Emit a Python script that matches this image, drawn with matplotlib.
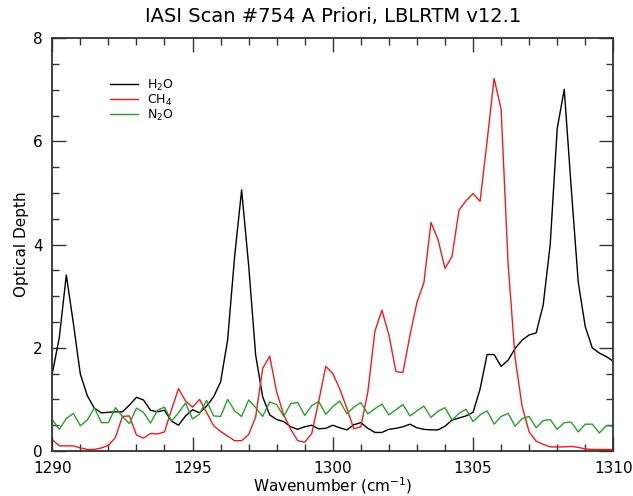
import numpy as np
import matplotlib
matplotlib.use("Agg")
import matplotlib.pyplot as plt
from matplotlib.ticker import MultipleLocator

# Spectral grid: 1290-1310 cm^-1 at 0.25 cm^-1 (IASI sampling)
wn_start, wn_step = 1290.0, 0.25

h2o = [1.50, 2.20, 3.41, 2.48, 1.49, 1.07, 0.83, 0.74, 0.75, 0.76,
       0.76, 0.89, 1.04, 0.99, 0.79, 0.76, 0.79, 0.58, 0.50, 0.68,
       0.80, 0.74, 0.87, 1.05, 1.34, 2.15, 3.77, 5.06, 3.60, 1.86,
       1.05, 0.70, 0.61, 0.57, 0.47, 0.42, 0.47, 0.50, 0.43, 0.44,
       0.50, 0.45, 0.41, 0.51, 0.55, 0.44, 0.36, 0.36, 0.42, 0.44,
       0.47, 0.52, 0.45, 0.42, 0.41, 0.41, 0.48, 0.60, 0.64, 0.68,
       0.75, 1.20, 1.87, 1.87, 1.64, 1.76, 1.99, 2.15, 2.25, 2.29,
       2.83, 4.00, 6.25, 7.01, 5.10, 3.27, 2.41, 2.00, 1.90, 1.83,
       1.74]

ch4 = [0.22, 0.10, 0.10, 0.10, 0.06, 0.03, 0.03, 0.06, 0.11, 0.26,
       0.67, 0.68, 0.31, 0.25, 0.34, 0.33, 0.37, 0.80, 1.21, 0.97,
       0.85, 1.00, 0.75, 0.49, 0.38, 0.29, 0.20, 0.20, 0.32, 0.66,
       1.60, 1.84, 1.14, 0.70, 0.42, 0.20, 0.17, 0.34, 0.97, 1.64,
       1.50, 1.20, 0.83, 0.43, 0.47, 1.15, 2.32, 2.73, 2.25, 1.54,
       1.52, 2.24, 2.88, 3.27, 4.43, 4.10, 3.54, 3.77, 4.67, 4.85,
       4.99, 4.84, 6.00, 7.22, 6.63, 3.62, 1.80, 0.86, 0.37, 0.19,
       0.13, 0.08, 0.08, 0.08, 0.09, 0.07, 0.04, 0.03, 0.03, 0.03,
       0.03]

n2o = [0.61, 0.42, 0.63, 0.73, 0.49, 0.60, 0.84, 0.55, 0.55, 0.84,
       0.67, 0.53, 0.83, 0.75, 0.54, 0.79, 0.85, 0.58, 0.74, 0.93,
       0.62, 0.72, 0.98, 0.68, 0.67, 1.00, 0.78, 0.67, 0.99, 0.84,
       0.67, 0.95, 0.90, 0.67, 0.92, 0.94, 0.69, 0.88, 0.96, 0.71,
       0.86, 0.97, 0.72, 0.85, 0.94, 0.72, 0.82, 0.91, 0.70, 0.80,
       0.90, 0.68, 0.78, 0.87, 0.65, 0.77, 0.84, 0.60, 0.73, 0.81,
       0.57, 0.70, 0.78, 0.52, 0.67, 0.73, 0.48, 0.63, 0.67, 0.45,
       0.59, 0.61, 0.42, 0.55, 0.56, 0.37, 0.52, 0.52, 0.35, 0.49,
       0.48]

wavenumber = wn_start + wn_step * np.arange(len(h2o))

series_labels = [r"H$_2$O", r"CH$_4$", r"N$_2$O"]
series_colors = ["#000000", "#ee1c1c", "#28a028"]

fig = plt.figure(figsize=(6.33, 4.96), dpi=100)
ax = fig.add_axes([0.0826, 0.0907, 0.8863, 0.8321])

for vals, lab, col in zip([h2o, ch4, n2o], series_labels, series_colors):
    ax.plot(wavenumber, vals, color=col, lw=1.0, label=lab)

ax.set_xlim(1290, 1310)
ax.set_ylim(0, 8)
ax.xaxis.set_major_locator(MultipleLocator(5))
ax.xaxis.set_minor_locator(MultipleLocator(1))
ax.yaxis.set_major_locator(MultipleLocator(2))
ax.yaxis.set_minor_locator(MultipleLocator(0.5))
ax.tick_params(which="both", direction="in", top=True, right=True,
               labelsize=11, width=1.0, color="#333333")
ax.tick_params(which="major", length=10, pad=7)
ax.tick_params(which="minor", length=5)
for sp in ax.spines.values():
    sp.set_linewidth(1.3)
    sp.set_color("#333333")

ax.set_title("IASI Scan #754 A Priori, LBLRTM v12.1", fontsize=14, pad=12)
ax.set_xlabel(r"Wavenumber (cm$^{-1}$)", fontsize=11, labelpad=0)
ax.set_ylabel("Optical Depth", fontsize=11, labelpad=3)

leg = ax.legend(loc="upper left", bbox_to_anchor=(0.103, 0.905), frameon=False,
                fontsize=9, handlelength=2.25, handletextpad=0.7,
                labelspacing=0.0, borderaxespad=0, borderpad=0)

fig.savefig("out.png", dpi=100)
